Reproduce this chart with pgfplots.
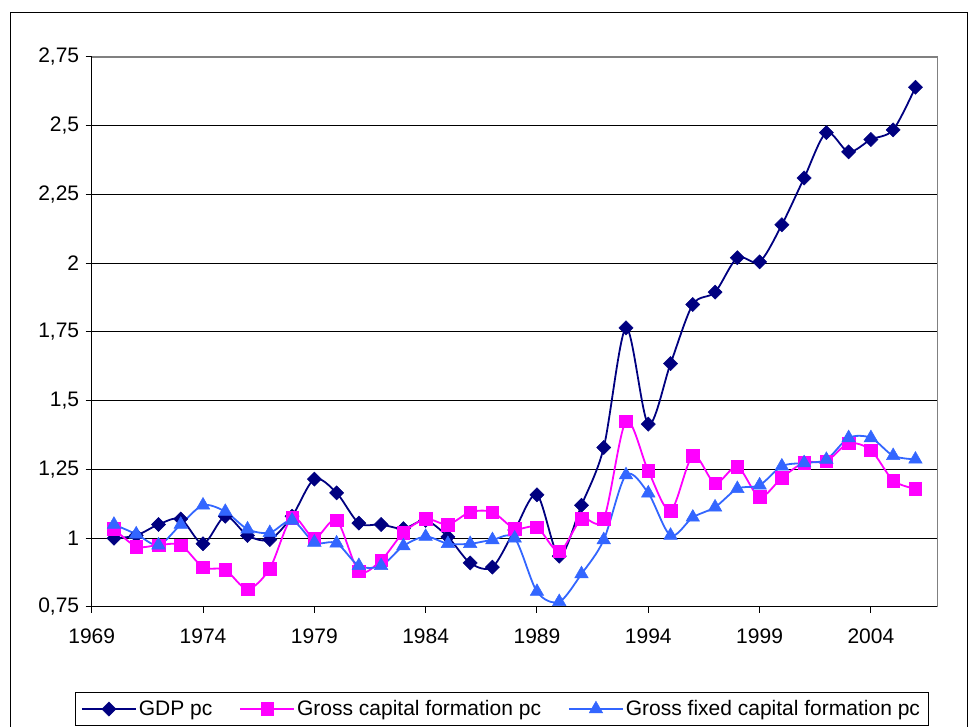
\documentclass[border=0pt]{standalone}
\usepackage{pgfplots}
\pgfplotsset{compat=1.18}
\usepackage{fontspec}
\setmainfont{Liberation Sans}
\definecolor{gdp}{RGB}{0,0,128}
\definecolor{gcf}{RGB}{255,0,255}
\definecolor{gfcf}{RGB}{51,102,255}
\begin{document}
\begin{tikzpicture}[x=1pt,y=1pt]
\draw[black, line width=1pt] (10.5,714.5) -- (10.5,-30);
\draw[black, line width=1pt] (10.5,714.5) -- (967.5,714.5) -- (967.5,-30);
\begin{axis}[
  at={(91.7pt,120pt)}, anchor=south west, scale only axis,
  width=846pt, height=550pt,
  xmin=1969, xmax=2007, ymin=0.75, ymax=2.75,
  clip=false,
  axis x line*=bottom, axis y line*=left,
  axis line style={-, black, line width=1pt},
  xtick={1969,1974,1979,1984,1989,1994,1999,2004},
  xticklabels={1969,1974,1979,1984,1989,1994,1999,2004},
  ytick={0.75,1,1.25,1.5,1.75,2,2.25,2.5,2.75},
  yticklabels={{0,75},{1},{1,25},{1,5},{1,75},{2},{2,25},{2,5},{2,75}},
  ymajorgrids, grid style={black, line width=1pt},
  tick align=outside, major tick length=6pt, tick style={black, line width=1pt},
  ticklabel style={font=\fontsize{21}{24}\selectfont},
  xticklabel style={yshift=-12pt},
  yticklabel style={xshift=-3pt},
  legend columns=3,
  legend style={at={(0.4844,-0.1855)}, anchor=center, draw=black, line width=0.8pt,
    font=\fontsize{21}{24}\selectfont, inner sep=6pt,
    /tikz/every even column/.append style={column sep=25pt}},
  legend image code/.code={\draw[mark repeat=2,mark phase=2] plot coordinates {(0pt,0pt) (27pt,0pt) (54pt,0pt)};},
]
\addplot[color=gdp, line width=1.8pt, smooth, mark=square*, mark size=5pt, mark options={rotate=45, solid, fill=gdp, line width=0.5pt}] coordinates {
(1970,1.00) (1971,1.01) (1972,1.05) (1973,1.07) (1974,0.98) (1975,1.08) (1976,1.01) (1977,0.995) (1978,1.08) (1979,1.215)
(1980,1.165) (1981,1.055) (1982,1.05) (1983,1.035) (1984,1.065) (1985,1.005) (1986,0.91) (1987,0.895) (1988,1.03) (1989,1.158)
(1990,0.935) (1991,1.12) (1992,1.33) (1993,1.765) (1994,1.415) (1995,1.635) (1996,1.85) (1997,1.895) (1998,2.02) (1999,2.005)
(2000,2.14) (2001,2.31) (2002,2.475) (2003,2.405) (2004,2.45) (2005,2.485) (2006,2.64)};
\addplot[color=gcf, line width=1.8pt, smooth, mark=square*, mark size=6.3pt, mark options={solid, fill=gcf, line width=0.5pt}] coordinates {
(1970,1.035) (1971,0.97) (1972,0.975) (1973,0.975) (1974,0.895) (1975,0.885) (1976,0.815) (1977,0.89) (1978,1.075) (1979,1.0)
(1980,1.065) (1981,0.88) (1982,0.92) (1983,1.02) (1984,1.07) (1985,1.05) (1986,1.095) (1987,1.095) (1988,1.035) (1989,1.04)
(1990,0.952) (1991,1.07) (1992,1.07) (1993,1.425) (1994,1.245) (1995,1.10) (1996,1.30) (1997,1.20) (1998,1.26) (1999,1.15)
(2000,1.22) (2001,1.275) (2002,1.28) (2003,1.345) (2004,1.32) (2005,1.21) (2006,1.18)};
\addplot[color=gfcf, line width=1.8pt, smooth, mark=triangle*, mark size=7.8pt, mark options={solid, fill=gfcf, line width=0.5pt}] coordinates {
(1970,1.05) (1971,1.015) (1972,0.975) (1973,1.05) (1974,1.12) (1975,1.097) (1976,1.033) (1977,1.02) (1978,1.065) (1979,0.985)
(1980,0.982) (1981,0.90) (1982,0.90) (1983,0.972) (1984,1.006) (1985,0.98) (1986,0.98) (1987,0.994) (1988,1.0) (1989,0.806)
(1990,0.769) (1991,0.87) (1992,0.994) (1993,1.23) (1994,1.164) (1995,1.01) (1996,1.076) (1997,1.113) (1998,1.18) (1999,1.193)
(2000,1.262) (2001,1.274) (2002,1.286) (2003,1.365) (2004,1.365) (2005,1.30) (2006,1.287)};
\draw[gray, line width=1.5pt] (rel axis cs:0,1) -- (rel axis cs:1,1) -- (rel axis cs:1,0);
\legend{GDP pc, Gross capital formation pc, Gross fixed capital formation pc}
\end{axis}
\pgfresetboundingbox
\path[use as bounding box] (0,0) rectangle (970,727);
\end{tikzpicture}
\end{document}
